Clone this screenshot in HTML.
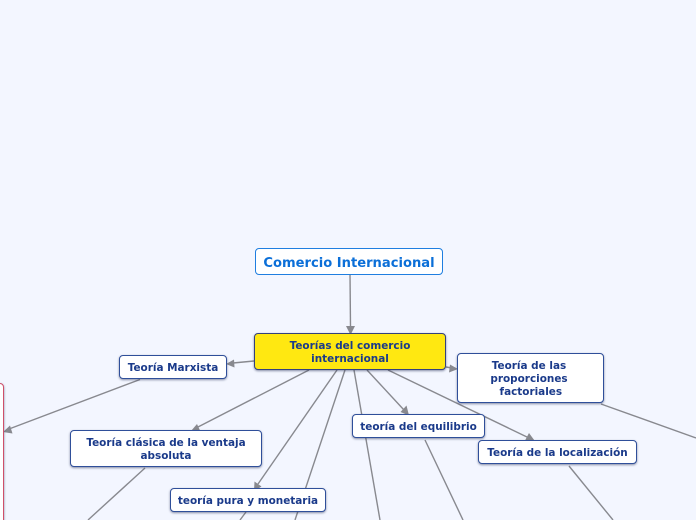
<!DOCTYPE html>
<html lang="es">
<head>
<meta charset="utf-8">
<title>Comercio Internacional</title>
<style>
html,body{margin:0;padding:0;width:696px;height:520px;overflow:hidden}
body{background:#f3f6ff;font-family:"DejaVu Sans","Liberation Sans",sans-serif}
#w{position:absolute;left:0;top:0;width:696px;height:520px;overflow:hidden;background:#f3f6ff}
svg{position:absolute;left:0;top:0}
.n{position:absolute;box-sizing:border-box;background:#fff;border:1.5px solid #2f4f9a;border-radius:4px;color:#1a3a8a;font-weight:bold;font-size:10.45px;line-height:13px;text-align:center;display:flex;align-items:center;justify-content:center;padding-top:2px;box-shadow:0 1px 2px rgba(40,50,90,.55)}
</style>
</head>
<body>
<div id="w">
<svg width="696" height="520" viewBox="0 0 696 520" fill="none" stroke="#88898f" stroke-width="1.4">
<path d="M350 274L350.5 327"/>
<path d="M254 361L233 363"/>
<path d="M446 367L452 368"/>
<path d="M140 379.5L9 429"/>
<path d="M309 370L197 427.5"/>
<path d="M145 468L88 520"/>
<path d="M337 370L258 484"/>
<path d="M345 370L295 520"/>
<path d="M354 370L380 520"/>
<path d="M367 370L404 410"/>
<path d="M388 370L528 437.5"/>
<path d="M425 440L463 520"/>
<path d="M569 466L613 520"/>
<path d="M601 404L696 438"/>
<path d="M246 512L240 520"/>
<g fill="#88898f" stroke="none">
<path d="M350.5 335L346 326L355 326Z"/>
<path d="M226 364L234 359.5L234.5 367.5Z"/>
<path d="M458 369L450 364.5L449 372.5Z"/>
<path d="M3 432L10 425.5L12.5 433.5Z"/>
<path d="M191 431L197 424L200.5 431.5Z"/>
<path d="M254 491L254.5 481.5L261.5 486.5Z"/>
<path d="M409 415.5L400.5 412L406.5 405.5Z"/>
<path d="M534.5 440.5L525 440.5L529 433Z"/>
</g>
</svg>

<div class="n" style="left:-12px;top:383px;width:16px;height:150px;border-color:#d0506a"></div>

<div class="n" style="left:255px;top:248px;width:188px;height:27px;border-color:#1f7ee0;color:#0b6fd8;font-size:13.1px;padding-top:4px;box-shadow:none">Comercio Internacional</div>
<div class="n" style="left:254px;top:333px;width:192px;height:37px;background:#ffe811;border-color:#34427c">Teorías del comercio<br>internacional</div>
<div class="n" style="left:119px;top:355px;width:108px;height:24px">Teoría Marxista</div>
<div class="n" style="left:70px;top:430px;width:192px;height:37px">Teoría clásica de la ventaja<br>absoluta</div>
<div class="n" style="left:170px;top:488px;width:156px;height:24px">teoría pura y monetaria</div>
<div class="n" style="left:352px;top:414px;width:133px;height:24px">teoría del equilibrio</div>
<div class="n" style="left:478px;top:440px;width:159px;height:24px">Teoría de la localización</div>
<div class="n" style="left:457px;top:353px;width:147px;height:50px;padding-right:3px">Teoría de las<br>proporciones<br>&nbsp;factoriales</div>
</div>
</body>
</html>
